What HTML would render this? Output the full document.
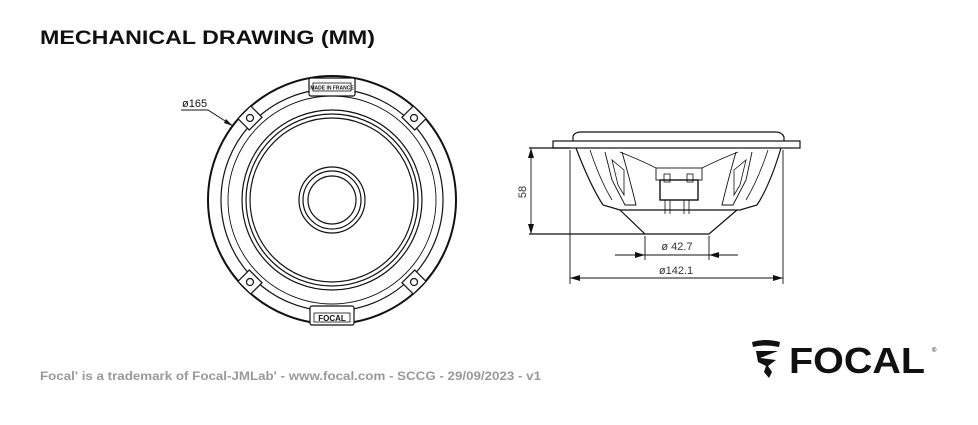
<!DOCTYPE html>
<html><head><meta charset="utf-8"><style>
body{margin:0;width:978px;height:420px;background:#fff;overflow:hidden;font-family:"Liberation Sans",sans-serif}
</style></head><body>
<svg width="978" height="420" xmlns="http://www.w3.org/2000/svg" font-family="Liberation Sans, sans-serif">
<text x="40" y="44" font-size="19" font-weight="bold" fill="#111" textLength="335" lengthAdjust="spacingAndGlyphs">MECHANICAL DRAWING (MM)</text>
<g fill="none" stroke="#111" stroke-width="1.2">
<circle cx="332" cy="200" r="124" stroke-width="2"/>
<circle cx="332" cy="200" r="111"/>
<circle cx="332" cy="200" r="104" stroke-width="0.9"/>
<circle cx="332" cy="200" r="90"/>
<circle cx="332" cy="200" r="86"/>
<circle cx="332" cy="200" r="82"/>
<circle cx="332" cy="200" r="33"/>
<circle cx="332" cy="200" r="29"/>
<circle cx="332" cy="200" r="24"/>
<g fill="#fff">
<g transform="rotate(-45 332 200)"><rect x="323" y="76" width="18" height="16"/><circle cx="332" cy="84" r="3.5"/></g>
<g transform="rotate(45 332 200)"><rect x="323" y="76" width="18" height="16"/><circle cx="332" cy="84" r="3.5"/></g>
<g transform="rotate(135 332 200)"><rect x="323" y="76" width="18" height="16"/><circle cx="332" cy="84" r="3.5"/></g>
<g transform="rotate(-135 332 200)"><rect x="323" y="76" width="18" height="16"/><circle cx="332" cy="84" r="3.5"/></g>
<rect x="309" y="78" width="46" height="18" rx="2"/>
<rect x="310" y="306" width="44" height="19" rx="2"/>
</g>
<rect x="313" y="83" width="38" height="8" stroke-width="0.8"/>
<rect x="314" y="313" width="36" height="9" stroke-width="0.8"/>
<polyline points="181,110 208,110 233,126" stroke-width="1"/>
</g>
<polygon points="233,126 226,119 224,123" fill="#111"/>
<text x="332" y="89.5" font-size="5" text-anchor="middle" font-weight="bold" fill="#111">MADE IN FRANCE</text>
<text x="332" y="321" font-size="8" text-anchor="middle" font-weight="bold" fill="#111">FOCAL</text>
<text x="182" y="107" font-size="11" fill="#111">ø165</text>
<g fill="none" stroke="#111" stroke-width="1.2">
<path d="M573,141 L573,136 Q575,132 581,132 L776,132 Q782,132 784,137 L784,141"/>
<rect x="553" y="141" width="247" height="7"/>
<path d="M576,148 Q590,185 603,205 L620,210 L740,210 L757,205 Q770,185 781,148"/>
<path d="M590,150 Q600,180 612,200 M768,150 Q758,180 746,200" stroke-width="0.8"/>
<path d="M605,152 L612,180 L625,205 L636,205 Q630,180 622,152 M752,152 L746,180 L733,205 L722,205 Q728,180 736,152" stroke-width="0.9"/>
<path d="M612,160 L618,185 L624,195 L624,170 Z M746,160 L740,185 L734,195 L734,170 Z" stroke-width="0.8"/>
<path d="M620,152 Q640,160 656,168 M738,152 Q718,160 702,168" stroke-width="0.8"/>
<rect x="656" y="168" width="46" height="12" stroke-width="0.9"/>
<rect x="660" y="180" width="38" height="20" stroke-width="1.4"/>
<rect x="664" y="174" width="6" height="8" stroke-width="0.8"/>
<rect x="687" y="174" width="6" height="8" stroke-width="0.8"/>
<path d="M665,200 L665,214 M670,200 L670,214 M684,200 L684,214 M689,200 L689,214" stroke-width="0.8"/>
<path d="M620,210 L645,234 L709,234 L737,210"/>
<path d="M529,148 L570,148 M529,234 L645,234"/>
<line x1="531" y1="148" x2="531" y2="234" stroke-width="0.9"/>
<line x1="645" y1="236" x2="645" y2="260" stroke-width="0.9"/>
<line x1="709" y1="236" x2="709" y2="260" stroke-width="0.9"/>
<line x1="615" y1="255" x2="738" y2="255" stroke-width="0.9"/>
<line x1="570" y1="150" x2="570" y2="284" stroke-width="0.9"/>
<line x1="783" y1="150" x2="783" y2="284" stroke-width="0.9"/>
<line x1="570" y1="278" x2="783" y2="278" stroke-width="0.9"/>
</g>
<g fill="#111">
<polygon points="531,148 528,158 534,158"/><polygon points="531,234 528,224 534,224"/>
<polygon points="645,255 635,252 635,258"/><polygon points="709,255 719,252 719,258"/>
<polygon points="570,278 580,275 580,281"/><polygon points="783,278 773,275 773,281"/>
</g>
<text x="526" y="192" font-size="11" fill="#333" text-anchor="middle" transform="rotate(-90 526 192)">58</text>
<text x="677" y="250" font-size="11" fill="#333" text-anchor="middle">ø 42.7</text>
<text x="676" y="274" font-size="11" fill="#333" text-anchor="middle">ø142.1</text>
<text x="40" y="380" font-size="11.5" font-weight="bold" fill="#999" textLength="501" lengthAdjust="spacingAndGlyphs">Focal' is a trademark of Focal-JMLab' - www.focal.com - SCCG - 29/09/2023 - v1</text>
<g fill="#111">
<path d="M752,342 Q765,338 780,342 L779,347 Q765,344 753,347 Z"/>
<path d="M756,351 L778,351 L760,358 L776,360 L768,366 L772,372 L769,378 L764,372 L766,366 L758,362 Z"/>
</g>
<text x="789" y="373" font-size="36" font-weight="bold" fill="#111" textLength="136" lengthAdjust="spacingAndGlyphs">FOCAL</text>
<text x="932" y="352" font-size="6" fill="#111">®</text>
</svg>
</body></html>
